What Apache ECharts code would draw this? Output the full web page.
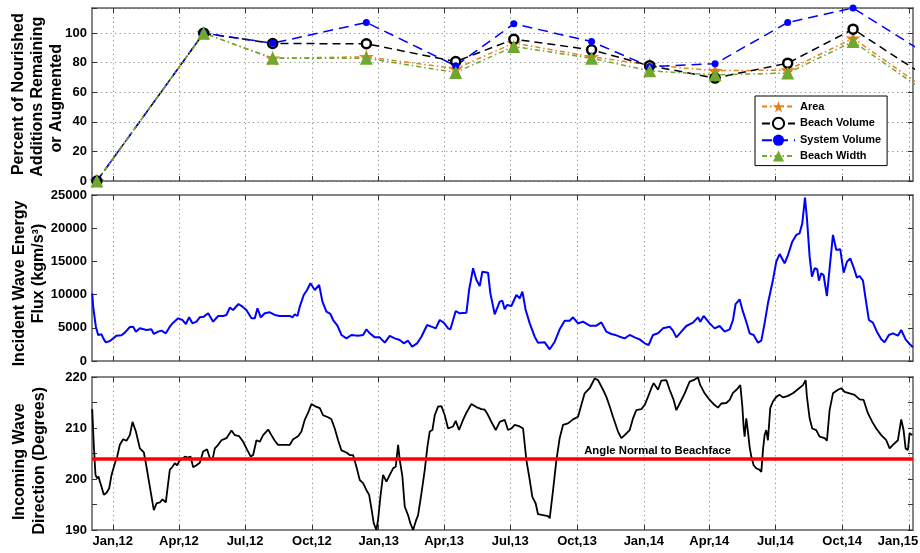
<!DOCTYPE html>
<html>
<head>
<meta charset="utf-8">
<title>Nourishment, wave energy flux and wave direction</title>
<script src="https://cdn.jsdelivr.net/npm/echarts@6.0.0/dist/echarts.min.js"></script>
<style>
  html, body { margin: 0; padding: 0; background: #ffffff; }
  #chart { width: 920px; height: 553px; }
</style>
</head>
<body>
<div id="chart"></div>
<script>
// ---- Survey results: percent of nourished additions remaining or augmented ----
const surveyDates = ['2011-12-10', '2012-05-05', '2012-08-08', '2012-12-15', '2013-04-17', '2013-07-06',
                     '2013-10-21', '2014-01-09', '2014-04-09', '2014-07-18', '2014-10-16', '2015-02-10'];
const areaPct         = [0, 100, 83.0, 84.0, 76.0, 93.3, 84.0, 78.5, 74.6, 75.0, 96.5, 56.5];
const beachVolumePct  = [0, 100, 93.0, 92.8, 80.8, 95.9, 88.7, 78.0, 69.6, 79.7, 102.7, 65.3];
const systemVolumePct = [0, 100, 93.2, 107.2, 77.9, 106.3, 94.3, 77.4, 79.3, 107.2, 117.0, 81.0];
const beachWidthPct   = [0, 100, 83.0, 83.0, 73.4, 91.0, 83.0, 74.5, 71.8, 73.0, 94.3, 54.5];

// ---- Incident wave energy flux (kgm/s^3); [days since 1 Jan 2012, flux] ----
const fluxPoints = [
  [-28.4,10190],[-27.1,8180],[-23.4,5170],[-20.2,3920],[-15.6,4020],[-12.4,3260],[-9.6,2810],[-4.1,3010],
  [0.5,3410],[5.0,3820],[11.9,3870],[16.5,4270],[23.4,5120],[28.0,5170],[31.7,4420],[37.2,4920],
  [46.3,4670],[53.2,4770],[56.4,4070],[62.4,4420],[67.0,4570],[72.9,4170],[78.4,5170],[83.0,5770],
  [89.9,6430],[95.9,6170],[100.5,5570],[105.0,6580],[109.6,5670],[115.1,5920],[119.7,6580],[125.2,6680],
  [131.2,7180],[138.1,5920],[145.0,6780],[151.8,6780],[156.4,6930],[161.0,8030],[165.6,7680],[167.9,7430],
  [172.9,8580],[178.4,8180],[183.9,7680],[190.8,6430],[195.4,6430],[199.1,7930],[203.7,6580],[209.2,7180],
  [216.1,7330],[222.9,6930],[229.8,6780],[243.6,6780],[247.2,6580],[250.5,7030],[254.1,6780],[257.3,8180],
  [262.8,9940],[267.4,10690],[272.0,11700],[278.0,10690],[284.0,11450],[288.5,8940],[294.0,7430],[299.5,7080],
  [303.2,6170],[308.7,5420],[314.7,3920],[321.6,3410],[328.4,3920],[337.6,3820],[344.5,3920],[349.1,4770],
  [353.7,4170],[360.6,3560],[367.4,3560],[374.3,2760],[381.2,3770],[388.1,3410],[395.0,3160],[400.5,2660],
  [406.4,3060],[411.9,2160],[418.8,2660],[424.8,3660],[432.6,5420],[438.5,5170],[444.5,4920],[450.0,6170],
  [455.5,5770],[461.5,4920],[464.7,4770],[472.0,7530],[477.5,7180],[486.7,7280],[490.4,10690],[495.9,13960],
  [500.5,12200],[505.0,11300],[508.7,13450],[516.5,13300],[519.7,10190],[525.7,7030],[532.6,8940],[536.2,9090],
  [539.4,7780],[542.7,8430],[548.6,8280],[555.5,9940],[560.1,9440],[563.8,10440],[568.3,7680],[573.9,5670],
  [580.7,3660],[585.3,2760],[594.5,2810],[601.4,1760],[608.3,2910],[615.1,4770],[622.0,6070],[628.9,6070],
  [633.5,6580],[640.4,5670],[647.2,5920],[656.4,5320],[665.6,5320],[672.5,5820],[679.4,4420],[686.2,4070],
  [693.1,3870],[697.7,3660],[704.6,3410],[711.5,3920],[718.3,3560],[725.2,3260],[732.1,2660],[737.6,2410],
  [743.6,3920],[750.5,4170],[757.3,4920],[766.5,5170],[771.1,4570],[775.7,3560],[782.6,4420],[789.4,5270],
  [798.6,5770],[805.5,6580],[808.7,5920],[813.3,6780],[821.6,5670],[828.4,4920],[835.3,5270],[842.2,4420],
  [849.1,4770],[853.7,6170],[857.3,8580],[862.8,9290],[867.4,7430],[872.0,5920],[876.6,4170],[882.1,3920],
  [888.1,2760],[892.7,3060],[897.2,5670],[901.8,8690],[908.7,12200],[913.3,14960],[917.9,16110],[924.8,14710],
  [929.4,15960],[935.3,17970],[940.8,18980],[945.4,19230],[949.1,20730],[952.8,24600],[955.5,21490],[959.2,15710],
  [962.4,12700],[966.1,13960],[969.7,13810],[972.0,12100],[975.2,13200],[978.4,12950],[983.0,9790],[986.7,13960],
  [991.3,18980],[995.9,16720],[1001.4,16820],[1006.0,13300],[1010.6,14960],[1015.1,15460],[1019.7,14110],[1024.3,12550],
  [1028.0,12800],[1032.6,12100],[1036.2,9440],[1040.8,6170],[1046.3,5770],[1051.8,4420],[1057.8,3260],[1062.4,2810],
  [1068.3,3920],[1073.9,4170],[1080.7,3820],[1085.3,4670],[1091.3,3260],[1096.8,2560],[1101.4,2060]
];

// ---- Incoming wave direction (degrees); [days since 1 Jan 2012, direction] ----
const directionPoints = [
  [-28.4,213.7],[-26.1,206.3],[-23.9,200.8],[-21.6,200.1],[-19.7,200.5],[-17.9,199.5],[-15.6,198.5],[-12.4,196.9],
  [-8.7,197.3],[-5.0,198.2],[-1.8,200.8],[2.8,203.1],[6.0,204.4],[9.6,206.7],[14.2,207.8],[18.8,207.5],
  [23.4,208.6],[27.1,211.2],[31.7,209.3],[37.2,206.0],[42.7,205.2],[46.3,202.4],[50.9,198.5],[56.4,193.9],
  [60.1,195.2],[64.7,195.4],[68.3,196.0],[72.9,195.4],[78.4,201.8],[82.1,202.4],[85.3,203.1],[88.5,202.7],
  [92.2,203.7],[95.9,203.9],[99.1,204.4],[103.7,204.2],[106.9,204.4],[110.6,202.3],[115.1,202.7],[119.7,203.2],
  [124.3,205.4],[129.8,205.8],[133.5,204.1],[137.2,203.8],[140.4,206.0],[145.0,206.7],[149.5,207.6],[156.4,208.0],
  [163.3,209.5],[167.9,208.6],[173.9,208.4],[179.4,207.3],[184.9,205.7],[189.9,204.4],[193.1,204.7],[197.7,207.6],
  [202.3,207.3],[206.9,208.6],[213.8,209.7],[218.3,208.6],[222.9,207.5],[227.5,206.7],[243.6,206.7],[248.2,207.8],
  [255.0,208.4],[259.6,209.3],[264.2,211.6],[268.8,213.0],[273.4,214.7],[278.0,214.3],[284.9,213.9],[289.4,212.5],
  [296.3,212.1],[300.9,211.7],[305.5,209.9],[310.1,207.6],[314.7,205.6],[321.6,205.2],[326.1,204.7],[330.7,204.7],
  [335.3,202.4],[339.9,199.8],[344.5,199.2],[349.1,197.8],[352.8,196.9],[356.0,194.2],[359.2,191.3],[362.8,190.0],
  [365.1,192.0],[368.3,196.5],[372.0,200.8],[376.6,199.5],[381.2,200.8],[385.8,202.1],[389.4,202.4],[392.7,206.7],
  [395.0,203.7],[398.6,200.5],[401.8,194.6],[406.4,192.9],[409.6,191.3],[413.3,190.0],[417.9,192.1],[420.2,192.9],
  [424.8,197.2],[429.4,201.8],[433.0,206.3],[436.2,209.3],[439.9,209.6],[443.1,212.5],[447.7,214.2],[452.3,214.3],
  [456.9,212.5],[461.5,209.9],[468.3,210.3],[472.0,211.4],[476.6,209.6],[482.1,211.6],[486.7,213.0],[493.6,214.7],
  [500.5,214.1],[507.3,213.7],[511.9,213.6],[515.1,212.9],[521.1,211.2],[527.1,209.6],[532.6,211.2],[539.4,211.6],
  [544.0,209.6],[548.6,209.9],[553.2,210.6],[560.1,210.3],[564.7,209.9],[569.3,203.7],[573.9,199.8],[577.5,196.5],
  [582.1,195.2],[585.3,193.1],[592.2,192.9],[599.1,192.7],[601.4,192.3],[606.0,197.8],[610.6,203.7],[615.1,208.0],
  [619.7,210.6],[626.6,210.9],[633.5,211.7],[640.4,212.2],[644.9,214.5],[649.5,216.8],[656.4,217.8],[663.3,219.7],
  [667.9,219.4],[674.8,217.5],[679.4,216.1],[684.0,214.2],[688.5,212.2],[695.4,209.3],[700.0,208.0],[704.6,208.6],
  [711.5,209.6],[716.1,211.9],[720.6,213.5],[727.5,213.7],[732.1,214.5],[736.7,216.1],[741.3,217.8],[744.5,218.8],
  [750.5,217.5],[755.0,219.3],[761.9,219.4],[766.5,217.5],[772.0,215.5],[775.7,213.5],[780.3,214.8],[787.2,216.8],
  [794.0,219.1],[800.9,219.5],[805.5,219.9],[808.7,218.4],[814.7,216.8],[821.6,215.5],[828.4,214.5],[833.0,214.0],
  [837.6,214.8],[844.5,214.9],[849.1,215.5],[853.7,216.9],[859.2,217.6],[863.8,218.4],[866.6,214.2],[868.3,210.3],
  [869.7,208.3],[872.0,211.9],[874.3,209.3],[876.6,206.3],[878.9,204.4],[882.1,202.7],[885.8,202.1],[890.4,201.8],
  [892.7,201.4],[895.0,205.7],[897.2,208.6],[899.5,209.6],[901.8,207.6],[905.0,213.9],[908.7,215.2],[913.3,216.1],
  [917.9,216.5],[922.5,216.0],[929.4,216.3],[936.2,216.8],[943.1,217.6],[950.0,218.4],[953.7,219.4],[955.5,216.1],
  [959.2,211.9],[962.8,209.9],[968.3,209.6],[972.9,208.3],[979.8,208.0],[983.0,207.5],[986.7,213.5],[991.3,216.8],
  [998.2,217.5],[1002.8,217.8],[1007.3,217.1],[1014.2,216.8],[1021.1,216.5],[1028.0,215.6],[1033.5,215.5],[1039.4,212.9],
  [1045.4,211.2],[1050.9,209.9],[1057.8,208.6],[1064.7,207.6],[1069.3,206.0],[1073.9,206.7],[1080.7,207.6],[1085.3,211.7],
  [1088.5,209.6],[1091.3,206.0],[1094.5,205.7],[1096.8,209.0],[1100.5,208.6]
];

// Shore-normal reference angle and its annotation
const beachNormalDeg = 204;
const beachNormalLabel = 'Angle Normal to Beachface';
const beachNormalLabelAt = ['2014-01-20', 205.6];

// Quarterly date ticks shared by the three panels
const quarterTicks = ['2012-01-01', '2012-04-01', '2012-07-01', '2012-10-01', '2013-01-01', '2013-04-01', '2013-07-01',
                      '2013-10-01', '2014-01-01', '2014-04-01', '2014-07-01', '2014-10-01', '2015-01-01'];
const quarterLabels = ['Jan,12', 'Apr,12', 'Jul,12', 'Oct,12', 'Jan,13', 'Apr,13', 'Jul,13',
                       'Oct,13', 'Jan,14', 'Apr,14', 'Jul,14', 'Oct,14', 'Jan,15'];

// ---- helpers: the x axes run in days since 1 Jan 2012 ----
const FONT = '"Liberation Sans", Arial, Helvetica, sans-serif';
const DAY_MS = 86400000;
const EPOCH = Date.UTC(2012, 0, 1);
const dayOf = s => { const p = s.split('-').map(Number); return Math.round((Date.UTC(p[0], p[1] - 1, p[2]) - EPOCH) / DAY_MS); };
const xMin = -28.7;
const xMax = 1101.5;
const tickDays = quarterTicks.map(dayOf);
const tickLabel = v => {
  const i = tickDays.findIndex(t => Math.abs(t - v) < 0.5);
  if (i < 0) return '';
  // the last label sits against the right edge, so it is nudged inward
  return i === quarterLabels.length - 1 ? '{edge|' + quarterLabels[i] + '}' : quarterLabels[i];
};

const ORANGE = '#E8801C';
const GREEN = '#6EA82E';
const BLUE = '#0000FF';
const FRAME = '#5c5c5c';
const TICK = '#333333';
const GRIDDOT = { color: '#8c8c8c', type: [1.2, 3.4], width: 1 };
const STAR = 'path://M0,-10L2.35,-3.24L9.51,-3.09L3.8,1.24L5.88,8.09L0,4L-5.88,8.09L-3.8,1.24L-9.51,-3.09L-2.35,-3.24Z';
const LABEL_TEXT = { color: '#000', fontFamily: FONT, fontWeight: 'bold', fontSize: 13 };

const grids = [
  { left: 92, right: 7, top: 8, height: 173 },
  { left: 92, right: 7, top: 195, height: 166 },
  { left: 92, right: 7, top: 377, height: 153 }
].map(g => Object.assign(g, { containLabel: false, outerBoundsMode: 'none' }));

function dateAxis(gridIndex, position, showLabels) {
  return {
    type: 'value', gridIndex, position, min: xMin, max: xMax, scale: true,
    axisLine: { show: true, onZero: false, lineStyle: { color: FRAME, width: 1.5 } },
    axisTick: { show: true, inside: true, length: 5, customValues: tickDays, lineStyle: { color: TICK, width: 1 } },
    axisLabel: Object.assign({
      show: showLabels, customValues: tickDays, formatter: tickLabel, margin: 5, hideOverlap: false,
      showMinLabel: true, showMaxLabel: true,
      rich: { edge: Object.assign({ padding: [0, 22, 0, 0] }, LABEL_TEXT) }
    }, LABEL_TEXT),
    splitLine: { show: position === 'bottom', lineStyle: GRIDDOT }
  };
}

function valueAxis(gridIndex, position, range, extra) {
  const left = position === 'left';
  return Object.assign({
    type: 'value', gridIndex, position, min: range.min, max: range.max, interval: range.interval,
    axisLine: { show: true, onZero: false, lineStyle: { color: FRAME, width: 1.5 } },
    axisTick: { show: true, inside: true, length: 5, lineStyle: { color: TICK, width: 1 } },
    axisLabel: Object.assign({ show: left, margin: 5, formatter: range.label || (v => String(v)) }, LABEL_TEXT),
    splitLine: { show: false }
  }, extra || {});
}

const pctRange  = { min: 0, max: 117, interval: 20, label: v => (v % 20 === 0 ? String(v) : '') };
const fluxRange = { min: 0, max: 25000, interval: 5000 };
const dirRange  = { min: 190, max: 220, interval: 5, label: v => (v % 10 === 0 ? String(v) : '') };

const xAxes = [
  dateAxis(0, 'bottom', false), dateAxis(0, 'top', false),
  dateAxis(1, 'bottom', false), dateAxis(1, 'top', false),
  dateAxis(2, 'bottom', true),  dateAxis(2, 'top', false)
];
const yAxes = [
  valueAxis(0, 'left', pctRange, { splitLine: { show: true, lineStyle: GRIDDOT } }), valueAxis(0, 'right', pctRange),
  valueAxis(1, 'left', fluxRange), valueAxis(1, 'right', fluxRange),
  valueAxis(2, 'left', dirRange),  valueAxis(2, 'right', dirRange)
];

const surveyDays = surveyDates.map(dayOf);
const surveySeries = (values) => surveyDays.map((d, i) => [d, values[i]]);

function surveyLine(name, values, symbol, size, itemStyle, lineStyle) {
  return {
    name, type: 'line', xAxisIndex: 0, yAxisIndex: 0, data: surveySeries(values),
    symbol, symbolSize: size, showAllSymbol: true, itemStyle, lineStyle, clip: true
  };
}

const series = [
  surveyLine('Area', areaPct, STAR, 15,
    { color: ORANGE },
    { color: ORANGE, width: 1.5, type: [5, 3, 1.5, 3] }),
  surveyLine('Beach Volume', beachVolumePct, 'circle', 9,
    { color: '#ffffff', borderColor: '#000000', borderWidth: 2.5 },
    { color: '#000000', width: 1.5, type: [8, 5] }),
  surveyLine('System Volume', systemVolumePct, 'circle', 7,
    { color: BLUE },
    { color: BLUE, width: 1.5, type: [10, 6] }),
  surveyLine('Beach Width', beachWidthPct, 'triangle', 13,
    { color: GREEN },
    { color: GREEN, width: 1.5, type: [5, 3, 1.5, 3] }),
  {
    name: 'Energy Flux', type: 'line', xAxisIndex: 2, yAxisIndex: 2, symbol: 'none', clip: true,
    data: fluxPoints,
    lineStyle: { color: BLUE, width: 2 }
  },
  {
    name: 'Wave Direction', type: 'line', xAxisIndex: 4, yAxisIndex: 4, symbol: 'none', clip: true,
    data: directionPoints,
    lineStyle: { color: '#000000', width: 1.8 },
    markLine: {
      silent: true, symbol: 'none', animation: false,
      label: { show: false },
      lineStyle: { color: '#FF0000', width: 3.6, type: 'solid' },
      data: [{ yAxis: beachNormalDeg }]
    },
    markPoint: {
      silent: true, symbol: 'rect', symbolSize: 1, animation: false,
      itemStyle: { color: 'rgba(0,0,0,0)' },
      label: {
        show: true, position: 'inside', formatter: beachNormalLabel,
        color: '#000', fontFamily: FONT, fontWeight: 'bold', fontSize: 11.3
      },
      data: [{ coord: [dayOf(beachNormalLabelAt[0]), beachNormalLabelAt[1]] }]
    }
  }
];

// Rotated axis titles at the left of each panel, one entry per text line
const titleFont = 'bold 16px ' + FONT;
const titleLines = [
  ['Percent of Nourished', 18.5, 94.2],
  ['Additions Remaining', 37.5, 96.7],
  ['or Augmented', 56.8, 98.3],
  ['Incident Wave Energy', 19.5, 283.5],
  ['Flux (kgm/s\u00B3)', 38.8, 273.5],
  ['Incoming Wave', 20, 461.7],
  ['Direction (Degrees)', 39.2, 460.8]
];

const chart = echarts.init(document.getElementById('chart'), null, { renderer: 'canvas' });
chart.setOption({
  animation: false,
  backgroundColor: '#ffffff',
  grid: grids,
  xAxis: xAxes,
  yAxis: yAxes,
  legend: {
    data: ['Area', 'Beach Volume', 'System Volume', 'Beach Width'],
    orient: 'vertical', left: 755, top: 96,
    padding: [5, 6, 4, 6], itemGap: 4.6, itemWidth: 33, itemHeight: 14,
    backgroundColor: '#ffffff', borderColor: '#000000', borderWidth: 1, borderRadius: 0,
    selectedMode: false,
    textStyle: { fontFamily: FONT, fontWeight: 'bold', fontSize: 11, color: '#000' }
  },
  graphic: titleLines.map(([text, x, y]) => ({
    type: 'text', x, y, rotation: Math.PI / 2, silent: true,
    style: { text, font: titleFont, fill: '#000', align: 'center', verticalAlign: 'middle' }
  })),
  series
});
</script>
</body>
</html>
